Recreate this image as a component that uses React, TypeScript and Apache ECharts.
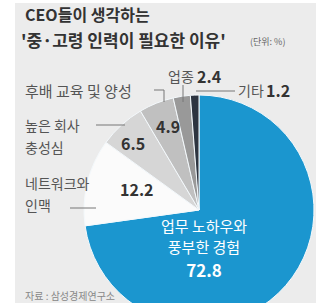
import React, { useEffect, useRef } from "react";
import * as echarts from "echarts";

const categories = ["업무 노하우와\n풍부한 경험", "네트워크와\n인맥", "높은 회사\n충성심", "후배 교육 및 양성", "업종", "기타"];
const values = [72.8, 12.2, 6.5, 4.9, 2.4, 1.2];
const sliceColors = ["#1b96cf", "#fbfbfb", "#d6d6d6", "#c0c0c0", "#999999", "#2c3440"];
const titleLines = ["CEO들이 생각하는", "'중·고령 인력이 필요한 이유'"];
const unitText = "(단위: %)";
const sourceText = "자료 : 삼성경제연구소";

const FONT = "'Noto Sans CJK KR', 'Noto Sans', sans-serif";

function fmt(v: number) {
  return v.toFixed(1);
}

export default function App() {
  const ref = useRef<HTMLDivElement>(null);
  useEffect(() => {
    if (!ref.current) return;
    const chart = echarts.init(ref.current, undefined, { renderer: "svg" });
    const labelStyle = { fill: "#555", fontSize: 14, fontFamily: FONT };
    const numStyle = { fill: "#333", fontSize: 16, fontWeight: "bold", fontFamily: FONT };
    const lineStyle = { stroke: "#777", lineWidth: 1 };
    const Z = 100;
    const graphics: any[] = [
      { type: "rect", z: -10, shape: { x: 15, y: 3, width: 301, height: 300 }, style: { fill: "#ececec" }, silent: true },
      { type: "text", z: Z, x: 25, y: 14, style: { text: titleLines[0], fontSize: 16, lineHeight: 17, fontWeight: "bold", fill: "#333", fontFamily: FONT, verticalAlign: "middle" } },
      { type: "text", z: Z, x: 21, y: 39, style: { text: titleLines[1], fontSize: 17, lineHeight: 18, fontWeight: "bold", fill: "#333", fontFamily: FONT, verticalAlign: "middle" } },
      { type: "text", z: Z, x: 250, y: 41, style: { text: unitText, fontSize: 9, fill: "#666", fontFamily: FONT, verticalAlign: "middle" } },
      // 후배 교육 및 양성
      { type: "text", z: Z, x: 25, y: 90, style: { ...labelStyle, text: categories[3], fontSize: 15, verticalAlign: "middle" } },
      { type: "polyline", z: Z, shape: { points: [[154, 90], [164, 90], [164, 102]] }, style: { ...lineStyle, fill: "none" } },
      { type: "text", z: Z, x: 156, y: 126, style: { ...numStyle, text: fmt(values[3]), verticalAlign: "middle" } },
      // 업종
      { type: "text", z: Z, x: 168, y: 76, style: { ...labelStyle, text: categories[4], verticalAlign: "middle" } },
      { type: "text", z: Z, x: 197, y: 76, style: { ...numStyle, text: fmt(values[4]), verticalAlign: "middle" } },
      { type: "line", z: Z, shape: { x1: 183, y1: 85, x2: 183, y2: 102 }, style: lineStyle },
      // 기타
      { type: "text", z: Z, x: 238, y: 90, style: { ...labelStyle, text: categories[5], verticalAlign: "middle" } },
      { type: "text", z: Z, x: 266, y: 90, style: { ...numStyle, text: fmt(values[5]), verticalAlign: "middle" } },
      { type: "line", z: Z, shape: { x1: 196, y1: 91, x2: 235, y2: 91 }, style: lineStyle },
      // 충성심
      { type: "text", z: Z, x: 25, y: 136, style: { ...labelStyle, text: categories[2], lineHeight: 22, verticalAlign: "middle" } },
      { type: "line", z: Z, shape: { x1: 96, y1: 125, x2: 125, y2: 125 }, style: lineStyle },
      { type: "text", z: Z, x: 121, y: 143, style: { ...numStyle, text: fmt(values[2]), verticalAlign: "middle" } },
      // 네트워크
      { type: "text", z: Z, x: 25, y: 194, style: { ...labelStyle, text: categories[1], lineHeight: 22, verticalAlign: "middle" } },
      { type: "line", z: Z, shape: { x1: 70, y1: 208, x2: 96, y2: 208 }, style: lineStyle },
      { type: "text", z: Z, x: 120, y: 189, style: { ...numStyle, text: fmt(values[1]), verticalAlign: "middle" } },
      // 업무
      { type: "text", z: Z, x: 204, y: 236, style: { text: categories[0], fill: "#fff", fontSize: 15, fontFamily: FONT, lineHeight: 21, align: "center", verticalAlign: "middle" } },
      { type: "text", z: Z, x: 204, y: 269, style: { text: fmt(values[0]), fill: "#fff", fontSize: 17, fontWeight: "bold", fontFamily: FONT, align: "center", verticalAlign: "middle" } },
      { type: "text", z: Z, x: 25, y: 295, style: { text: sourceText, fontSize: 10, fill: "#888", fontFamily: FONT, verticalAlign: "middle" } },
    ];
    chart.setOption({
      animation: false,
      backgroundColor: "#ffffff",
      series: [
        {
          type: "pie",
          z: 2,
          center: [199, 210],
          radius: [0, 115],
          startAngle: 90,
          clockwise: true,
          label: { show: false },
          labelLine: { show: false },
          silent: true,
          itemStyle: { borderColor: "#f4f9fc", borderWidth: 1 },
          data: values.map((v, i) => ({ value: v, name: categories[i], itemStyle: { color: sliceColors[i] } })),
        },
      ],
      graphic: graphics,
    });
    return () => chart.dispose();
  }, []);
  return <div ref={ref} style={{ position: "fixed", left: 0, top: 0, width: 316, height: 303 }} />;
}
